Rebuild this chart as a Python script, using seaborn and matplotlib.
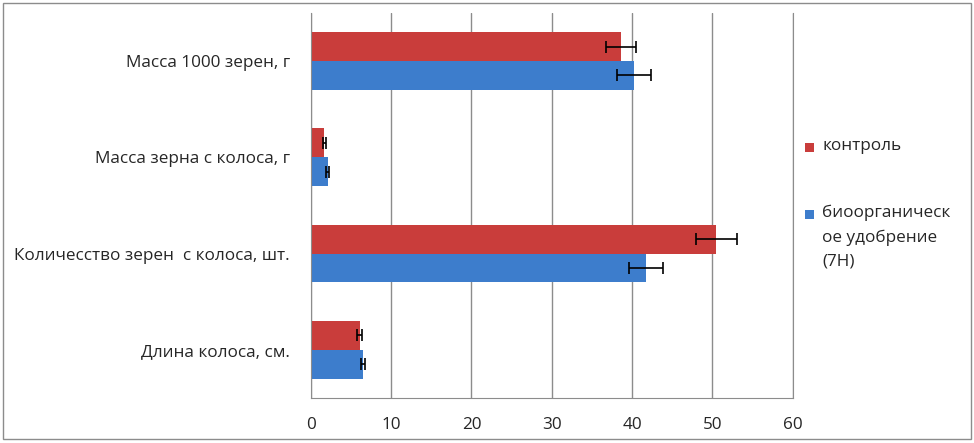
import pandas as pd
import matplotlib.pyplot as plt
import seaborn as sns
from matplotlib.patches import Rectangle

categories = [
    "Масса 1000 зерен, г",
    "Масса зерна с колоса, г",
    "Количесство зерен  с колоса, шт.",
    "Длина колоса, см.",
]
series = ["контроль", "биоорганическое удобрение (7Н)"]
legend_labels = ["контроль", "биоорганическ\nое удобрение\n(7Н)"]
control_values = [38.6, 1.7, 50.5, 6.1]
control_errors = [1.9, 0.2, 2.5, 0.3]
bio_values = [40.2, 2.1, 41.7, 6.5]
bio_errors = [2.1, 0.2, 2.1, 0.3]

colors = ["#C93D3B", "#3D7DCC"]

df = pd.DataFrame({
    "category": categories * 2,
    "series": [series[0]] * 4 + [series[1]] * 4,
    "value": control_values + bio_values,
})
errors = {series[0]: control_errors, series[1]: bio_errors}

sns.set_style("white")
plt.rcParams["font.family"] = ["Open Sans", "DejaVu Sans"]

fig = plt.figure(figsize=(9.74, 4.43), dpi=100)
ax = fig.add_axes([0.319, 0.1016, 0.495, 0.8694])

sns.barplot(
    data=df, x="value", y="category", hue="series",
    order=categories, hue_order=series, palette=colors, saturation=1,
    width=0.6, edgecolor="none", ax=ax, legend=False,
)

# error bars placed on the drawn bars
for container, name in zip(ax.containers, series):
    for bar, err in zip(container, errors[name]):
        y = bar.get_y() + bar.get_height() / 2
        ax.errorbar(bar.get_width(), y, xerr=err, fmt="none",
                    ecolor="black", elinewidth=1.2, capsize=4, capthick=1.2,
                    zorder=5)

ax.set_xlim(0, 60)
ax.set_ylim(3.5, -0.5)
ax.set_xticks(range(0, 61, 10))
ax.set_xlabel("")
ax.set_ylabel("")
ax.grid(axis="x", color="#8c8c8c", linewidth=1)
ax.set_axisbelow(True)

ax.spines["top"].set_visible(False)
for side in ["left", "bottom", "right"]:
    ax.spines[side].set_color("#8c8c8c")

# category labels between boundary ticks
ax.set_yticks(range(4))
ax.set_yticklabels(categories, fontsize=12.3)
ax.tick_params(axis="y", length=0, pad=15)
ax.set_yticks([-0.5, 0.5, 1.5, 2.5, 3.5], minor=True)
ax.tick_params(axis="y", which="minor", length=5, color="#8c8c8c")
ax.tick_params(axis="x", length=5, color="#8c8c8c", labelsize=12.3, pad=9)

# legend: square marker aligned with the first line of each label
legend_y = [0.666, 0.515]
for color, label, ly in zip(colors, legend_labels, legend_y):
    fig.patches.append(Rectangle((0.826, ly - 0.01), 0.0095, 0.021,
                                 transform=fig.transFigure, facecolor=color,
                                 edgecolor="none"))
    fig.text(0.844, ly + 0.022, label, fontsize=12.3, va="top", ha="left",
             linespacing=1.65)

fig.patches.append(Rectangle((0.003, 0.008), 0.994, 0.985, transform=fig.transFigure,
                             fill=False, edgecolor="#8c8c8c", linewidth=1))

fig.savefig("out.png", dpi=100)
